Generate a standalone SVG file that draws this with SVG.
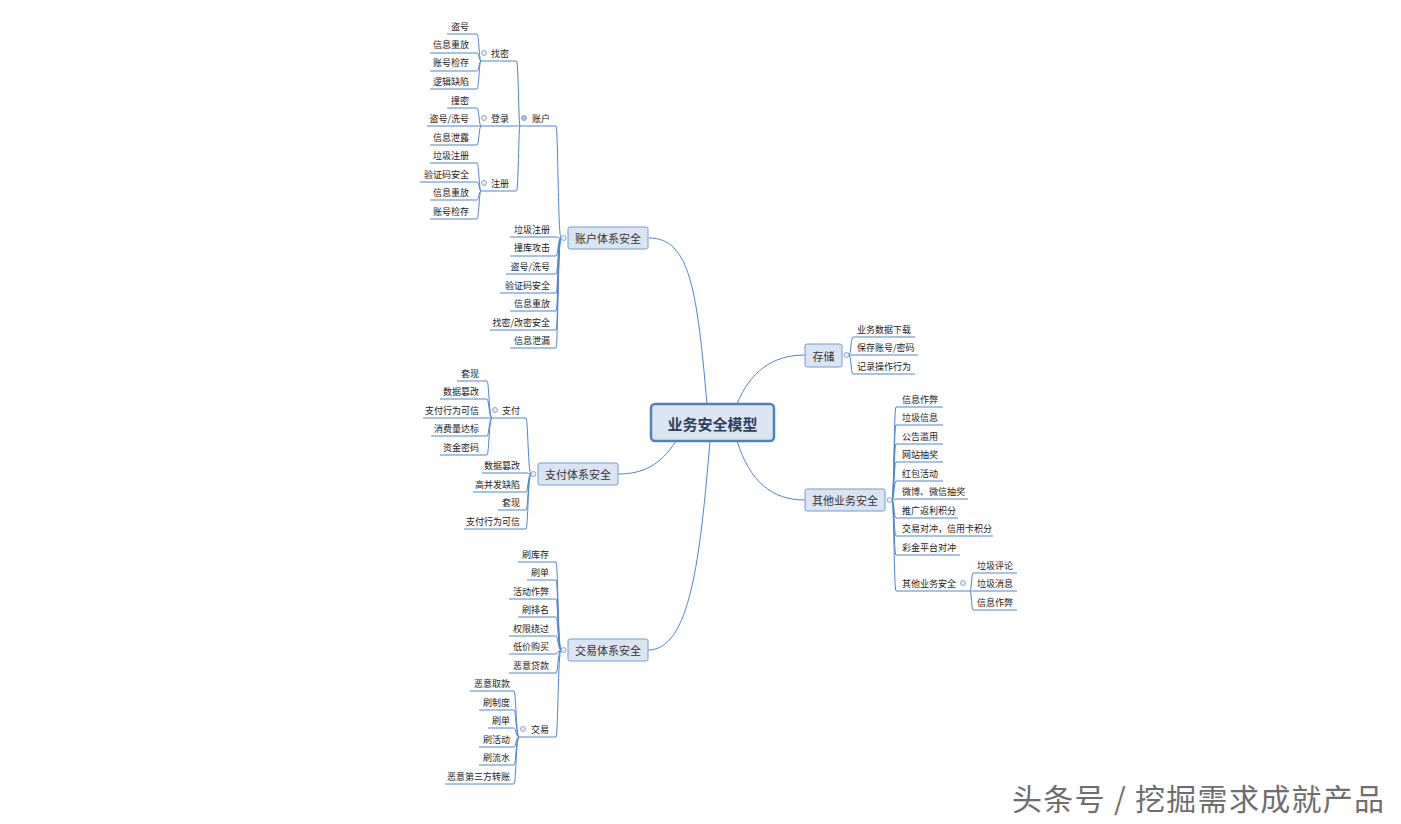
<svg xmlns="http://www.w3.org/2000/svg" width="1401" height="824" viewBox="0 0 1401 824">
<style>
text{font-family:"Noto Sans CJK SC","Noto Sans",sans-serif;dominant-baseline:central;fill:#222}
.tl{font-size:9px;text-anchor:end}
.tr{font-size:9px;text-anchor:start}
.u{stroke:#4f86c9;stroke-width:1;fill:none}
.c{stroke:#4f86c9;stroke-width:1;fill:none}
.b1{fill:#dbe5f1;stroke:#6f9dd6;stroke-width:1}
.t1{font-size:11px;text-anchor:middle;fill:#333}
.dot{fill:#e8eef7;stroke:#8aa8d2;stroke-width:1}
.dotf{fill:#a9bfdc;stroke:#8aa8d2;stroke-width:1}
</style>
<rect width="1401" height="824" fill="#ffffff"/>

<g id="connectors">
<path class="c" d="M707 404 C697 290 690 238 649 238"/>
<path class="c" d="M737 404 C750 372 772 355 805 355"/>
<path class="c" d="M676 441 C660 466 642 474 618 474"/>
<path class="c" d="M710 441 C700 560 690 650 648 650"/>
<path class="c" d="M737 441 C750 482 772 500 805 500"/>
<path class="c" d="M561 238 C558 238 558 126 556 126"/>
<path class="c" d="M561 238 C558 238 558 237 556 237"/>
<path class="c" d="M561 238 C558 238 558 256 556 256"/>
<path class="c" d="M561 238 C558 238 558 274 556 274"/>
<path class="c" d="M561 238 C558 238 558 293 556 293"/>
<path class="c" d="M561 238 C558 238 558 311 556 311"/>
<path class="c" d="M561 238 C558 238 558 330 556 330"/>
<path class="c" d="M561 238 C558 238 558 348 556 348"/>
<path class="c" d="M520 126 C518.5 126 518.5 61 516.5 61"/>
<path class="c" d="M520 126 C518.5 126 518.5 126 516.5 126"/>
<path class="c" d="M520 126 C518.5 126 518.5 191 516.5 191"/>
<path class="c" d="M481 61 C479 61 479 34 477 34"/>
<path class="c" d="M481 61 C479 61 479 53 477 53"/>
<path class="c" d="M481 61 C479 61 479 71 477 71"/>
<path class="c" d="M481 61 C479 61 479 89 477 89"/>
<path class="c" d="M481 126 C479 126 479 108 477 108"/>
<path class="c" d="M481 126 C479 126 479 126 477 126"/>
<path class="c" d="M481 126 C479 126 479 145 477 145"/>
<path class="c" d="M481 191 C479 191 479 163 477 163"/>
<path class="c" d="M481 191 C479 191 479 182 477 182"/>
<path class="c" d="M481 191 C479 191 479 200 477 200"/>
<path class="c" d="M481 191 C479 191 479 219 477 219"/>
<path class="c" d="M531 474 C528 474 528 418 526 418"/>
<path class="c" d="M531 474 C528 474 528 473 526 473"/>
<path class="c" d="M531 474 C528 474 528 492 526 492"/>
<path class="c" d="M531 474 C528 474 528 510 526 510"/>
<path class="c" d="M531 474 C528 474 528 529 526 529"/>
<path class="c" d="M492 418 C489 418 489 381 487 381"/>
<path class="c" d="M492 418 C489 418 489 399 487 399"/>
<path class="c" d="M492 418 C489 418 489 418 487 418"/>
<path class="c" d="M492 418 C489 418 489 436 487 436"/>
<path class="c" d="M492 418 C489 418 489 455 487 455"/>
<path class="c" d="M561 650 C558 650 558 562 556 562"/>
<path class="c" d="M561 650 C558 650 558 580 556 580"/>
<path class="c" d="M561 650 C558 650 558 599 556 599"/>
<path class="c" d="M561 650 C558 650 558 617 556 617"/>
<path class="c" d="M561 650 C558 650 558 636 556 636"/>
<path class="c" d="M561 650 C558 650 558 654 556 654"/>
<path class="c" d="M561 650 C558 650 558 673 556 673"/>
<path class="c" d="M561 650 C558 650 558 737 556 737"/>
<path class="c" d="M519 737 C516 737 516 691 514 691"/>
<path class="c" d="M519 737 C516 737 516 710 514 710"/>
<path class="c" d="M519 737 C516 737 516 728 514 728"/>
<path class="c" d="M519 737 C516 737 516 747 514 747"/>
<path class="c" d="M519 737 C516 737 516 765 514 765"/>
<path class="c" d="M519 737 C516 737 516 784 514 784"/>
<path class="c" d="M849 355 C851 355 851 337 853 337"/>
<path class="c" d="M849 355 C851 355 851 355 853 355"/>
<path class="c" d="M849 355 C851 355 851 374 853 374"/>
<path class="c" d="M892 500 C894 500 894 407 896 407"/>
<path class="c" d="M892 500 C894 500 894 425 896 425"/>
<path class="c" d="M892 500 C894 500 894 444 896 444"/>
<path class="c" d="M892 500 C894 500 894 462 896 462"/>
<path class="c" d="M892 500 C894 500 894 481 896 481"/>
<path class="c" d="M892 500 C894 500 894 499 896 499"/>
<path class="c" d="M892 500 C894 500 894 518 896 518"/>
<path class="c" d="M892 500 C894 500 894 536 896 536"/>
<path class="c" d="M892 500 C894 500 894 555 896 555"/>
<path class="c" d="M892 500 C894 500 894 591 896 591"/>
<path class="c" d="M970 591 C971.5 591 971.5 573 973 573"/>
<path class="c" d="M970 591 C971.5 591 971.5 591 973 591"/>
<path class="c" d="M970 591 C971.5 591 971.5 610 973 610"/>
</g>

<g id="root">
<rect x="651" y="404" width="123" height="37" rx="4" fill="#dce6f2" stroke="#4f81bd" stroke-width="2.5"/>
<text x="712.5" y="423" style="font-size:15px;font-weight:bold;text-anchor:middle;fill:#2b3f5c">业务安全模型</text>
</g>

<g id="acct"><rect class="b1" x="568" y="227" width="80" height="22" rx="2"/><text class="t1" x="608" y="238">账户体系安全</text><circle class="dot" cx="563.5" cy="238" r="2.5"/></g>
<g id="acct-1"><text class="tl" x="550" y="118">账户</text><path class="u" d="M520 126H556"/><circle class="dotf" cx="524" cy="118" r="2.5"/></g>
<g id="acct-1-1"><text class="tl" x="509" y="53">找密</text><path class="u" d="M481 61H516.5"/><circle class="dot" cx="484" cy="53" r="2.5"/></g>
<g id="acct-1-1-1"><text class="tl" x="469" y="26">盗号</text><path class="u" d="M447 34H477"/></g>
<g id="acct-1-1-2"><text class="tl" x="469" y="44">信息重放</text><path class="u" d="M430 53H477"/></g>
<g id="acct-1-1-3"><text class="tl" x="469" y="62">账号检存</text><path class="u" d="M430 71H477"/></g>
<g id="acct-1-1-4"><text class="tl" x="469" y="81">逻辑缺陷</text><path class="u" d="M430 89H477"/></g>
<g id="acct-1-2"><text class="tl" x="509" y="118">登录</text><path class="u" d="M481 126H516.5"/><circle class="dot" cx="484" cy="118" r="2.5"/></g>
<g id="acct-1-2-1"><text class="tl" x="469" y="100">撞密</text><path class="u" d="M447 108H477"/></g>
<g id="acct-1-2-2"><text class="tl" x="469" y="118">盗号/洗号</text><path class="u" d="M427 126H477"/></g>
<g id="acct-1-2-3"><text class="tl" x="469" y="137">信息泄露</text><path class="u" d="M430 145H477"/></g>
<g id="acct-1-3"><text class="tl" x="509" y="183">注册</text><path class="u" d="M481 191H516.5"/><circle class="dot" cx="484" cy="183" r="2.5"/></g>
<g id="acct-1-3-1"><text class="tl" x="469" y="155">垃圾注册</text><path class="u" d="M430 163H477"/></g>
<g id="acct-1-3-2"><text class="tl" x="469" y="174">验证码安全</text><path class="u" d="M420 182H477"/></g>
<g id="acct-1-3-3"><text class="tl" x="469" y="192">信息重放</text><path class="u" d="M430 200H477"/></g>
<g id="acct-1-3-4"><text class="tl" x="469" y="211">账号检存</text><path class="u" d="M430 219H477"/></g>
<g id="acct-2"><text class="tl" x="550" y="229">垃圾注册</text><path class="u" d="M510 237H556"/></g>
<g id="acct-3"><text class="tl" x="550" y="247">撞库攻击</text><path class="u" d="M510 256H556"/></g>
<g id="acct-4"><text class="tl" x="550" y="266">盗号/洗号</text><path class="u" d="M506 274H556"/></g>
<g id="acct-5"><text class="tl" x="550" y="285">验证码安全</text><path class="u" d="M500 293H556"/></g>
<g id="acct-6"><text class="tl" x="550" y="303">信息重放</text><path class="u" d="M510 311H556"/></g>
<g id="acct-7"><text class="tl" x="550" y="322">找密/改密安全</text><path class="u" d="M490 330H556"/></g>
<g id="acct-8"><text class="tl" x="550" y="340">信息泄漏</text><path class="u" d="M510 348H556"/></g>

<g id="pay"><rect class="b1" x="538" y="463" width="80" height="22" rx="2"/><text class="t1" x="578" y="474">支付体系安全</text><circle class="dot" cx="533.5" cy="474" r="2.5"/></g>
<g id="pay-1"><text class="tl" x="520" y="410">支付</text><path class="u" d="M492 418H526"/><circle class="dot" cx="495" cy="410" r="2.5"/></g>
<g id="pay-1-1"><text class="tl" x="479" y="373">套现</text><path class="u" d="M457 381H487"/></g>
<g id="pay-1-2"><text class="tl" x="479" y="391">数据篡改</text><path class="u" d="M440 399H487"/></g>
<g id="pay-1-3"><text class="tl" x="479" y="410">支付行为可信</text><path class="u" d="M423 418H487"/></g>
<g id="pay-1-4"><text class="tl" x="479" y="428">消费量达标</text><path class="u" d="M431 436H487"/></g>
<g id="pay-1-5"><text class="tl" x="479" y="447">资金密码</text><path class="u" d="M440 455H487"/></g>
<g id="pay-2"><text class="tl" x="520" y="465">数据篡改</text><path class="u" d="M482 473H526"/></g>
<g id="pay-3"><text class="tl" x="520" y="484">高并发缺陷</text><path class="u" d="M473 492H526"/></g>
<g id="pay-4"><text class="tl" x="520" y="502">套现</text><path class="u" d="M498 510H526"/></g>
<g id="pay-5"><text class="tl" x="520" y="521">支付行为可信</text><path class="u" d="M464 529H526"/></g>

<g id="trade"><rect class="b1" x="568" y="639" width="80" height="22" rx="2"/><text class="t1" x="608" y="650">交易体系安全</text><circle class="dot" cx="563.5" cy="650" r="2.5"/></g>
<g id="trade-1"><text class="tl" x="549" y="554">刷库存</text><path class="u" d="M518 562H556"/></g>
<g id="trade-2"><text class="tl" x="549" y="572">刷单</text><path class="u" d="M527 580H556"/></g>
<g id="trade-3"><text class="tl" x="549" y="591">活动作弊</text><path class="u" d="M509 599H556"/></g>
<g id="trade-4"><text class="tl" x="549" y="609">刷排名</text><path class="u" d="M518 617H556"/></g>
<g id="trade-5"><text class="tl" x="549" y="628">权限绕过</text><path class="u" d="M509 636H556"/></g>
<g id="trade-6"><text class="tl" x="549" y="646">低价购买</text><path class="u" d="M509 654H556"/></g>
<g id="trade-7"><text class="tl" x="549" y="665">恶意贷款</text><path class="u" d="M509 673H556"/></g>
<g id="trade-8"><text class="tl" x="549" y="729">交易</text><path class="u" d="M519 737H556"/><circle class="dot" cx="523" cy="729" r="2.5"/></g>
<g id="trade-8-1"><text class="tl" x="510" y="683">恶意取款</text><path class="u" d="M470 691H514"/></g>
<g id="trade-8-2"><text class="tl" x="510" y="702">刷制度</text><path class="u" d="M479 710H514"/></g>
<g id="trade-8-3"><text class="tl" x="510" y="720">刷单</text><path class="u" d="M488 728H514"/></g>
<g id="trade-8-4"><text class="tl" x="510" y="739">刷活动</text><path class="u" d="M479 747H514"/></g>
<g id="trade-8-5"><text class="tl" x="510" y="757">刷流水</text><path class="u" d="M479 765H514"/></g>
<g id="trade-8-6"><text class="tl" x="510" y="776">恶意第三方转账</text><path class="u" d="M445 784H514"/></g>

<g id="store"><rect class="b1" x="805" y="344" width="37" height="23" rx="2"/><text class="t1" x="823.5" y="355.5">存储</text><circle class="dot" cx="846.5" cy="355" r="2.5"/></g>
<g id="store-1"><text class="tr" x="857" y="329">业务数据下载</text><path class="u" d="M853 337H915"/></g>
<g id="store-2"><text class="tr" x="857" y="347">保存账号/密码</text><path class="u" d="M853 355H918"/></g>
<g id="store-3"><text class="tr" x="857" y="366">记录操作行为</text><path class="u" d="M853 374H915"/></g>

<g id="other"><rect class="b1" x="805" y="489" width="80" height="22" rx="2"/><text class="t1" x="845" y="500">其他业务安全</text><circle class="dot" cx="889.5" cy="500" r="2.5"/></g>
<g id="other-1"><text class="tr" x="902" y="399">信息作弊</text><path class="u" d="M896 407H943"/></g>
<g id="other-2"><text class="tr" x="902" y="417">垃圾信息</text><path class="u" d="M896 425H943"/></g>
<g id="other-3"><text class="tr" x="902" y="436">公告滥用</text><path class="u" d="M896 444H943"/></g>
<g id="other-4"><text class="tr" x="902" y="454">网站抽奖</text><path class="u" d="M896 462H943"/></g>
<g id="other-5"><text class="tr" x="902" y="473">红包活动</text><path class="u" d="M896 481H943"/></g>
<g id="other-6"><text class="tr" x="902" y="491">微博、微信抽奖</text><path class="u" d="M896 499H968"/></g>
<g id="other-7"><text class="tr" x="902" y="510">推广返利积分</text><path class="u" d="M896 518H958"/></g>
<g id="other-8"><text class="tr" x="902" y="528">交易对冲，信用卡积分</text><path class="u" d="M896 536H993"/></g>
<g id="other-9"><text class="tr" x="902" y="547">彩金平台对冲</text><path class="u" d="M896 555H960"/></g>
<g id="other-10"><text class="tr" x="902" y="583">其他业务安全</text><path class="u" d="M896 591H970"/><circle class="dot" cx="963" cy="583" r="2.5"/></g>
<g id="other-10-1"><text class="tr" x="977" y="565">垃圾评论</text><path class="u" d="M973 573H1017"/></g>
<g id="other-10-2"><text class="tr" x="977" y="583">垃圾消息</text><path class="u" d="M973 591H1017"/></g>
<g id="other-10-3"><text class="tr" x="977" y="602">信息作弊</text><path class="u" d="M973 610H1017"/></g>

<text x="1012" y="797" style="font-size:30px;letter-spacing:1.3px;fill:#6e6e6e">头条号 / 挖掘需求成就产品</text>
</svg>
